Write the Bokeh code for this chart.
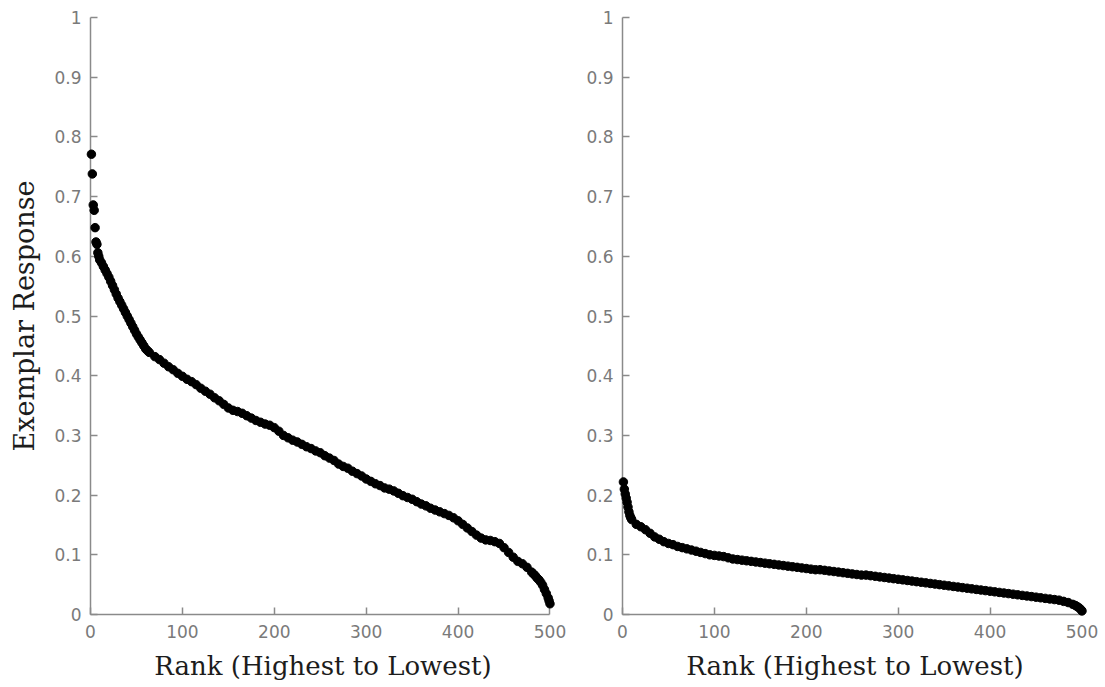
from bokeh.plotting import figure
from bokeh.models import Range1d, FixedTicker
from bokeh.layouts import row
from bokeh.embed import file_html
from bokeh.resources import INLINE

# Ranked exemplar responses (rank 1 = highest), first condition
left_rank = [1, 2, 3, 4, 5, 6, 7, 8, 9, 10,
             12, 14, 16, 18, 20, 22, 24, 26, 28, 30, 32, 34, 36, 38, 40,
             42, 44, 46, 48, 50, 52, 54, 56, 58, 60, 62, 64,
             70, 75, 80, 85, 90, 95, 100, 105, 110, 115, 120, 125, 130, 135,
             140, 145, 150, 155, 160, 165, 170, 175, 180, 185, 190, 195, 200,
             205, 210, 215, 220, 225, 230, 235, 240, 245, 250, 255, 260, 265,
             270, 275, 280, 285, 290, 295, 300, 305, 310, 315, 320, 325, 330,
             335, 340, 345, 350, 355, 360, 365, 370, 375, 380, 385, 390, 395,
             400, 405, 410, 415, 420, 425, 430, 435, 440, 445, 450, 455, 460,
             465, 470, 475, 480, 482, 484, 486, 488, 490, 492, 494, 496, 498,
             499, 500]
left_resp = [0.771, 0.738, 0.686, 0.677, 0.648, 0.624, 0.620, 0.606, 0.600, 0.594,
             0.589, 0.583, 0.577, 0.571, 0.565, 0.558, 0.551, 0.544, 0.537, 0.530,
             0.524, 0.518, 0.512, 0.506, 0.500,
             0.494, 0.488, 0.482, 0.476, 0.470, 0.465, 0.460, 0.455, 0.450, 0.445,
             0.442, 0.439,
             0.432, 0.427, 0.421, 0.415, 0.410, 0.404, 0.399, 0.394, 0.390, 0.385,
             0.379, 0.374, 0.369, 0.363,
             0.358, 0.352, 0.346, 0.342, 0.340, 0.337, 0.333, 0.329, 0.325, 0.322,
             0.319, 0.317, 0.313,
             0.307, 0.300, 0.296, 0.292, 0.289, 0.285, 0.281, 0.278, 0.274, 0.271,
             0.266, 0.262, 0.258,
             0.252, 0.248, 0.245, 0.240, 0.236, 0.232, 0.227, 0.223, 0.219, 0.216,
             0.212, 0.210, 0.207,
             0.203, 0.199, 0.196, 0.193, 0.189, 0.185, 0.182, 0.178, 0.175, 0.172,
             0.169, 0.166, 0.162,
             0.157, 0.151, 0.145, 0.139, 0.133, 0.128, 0.125, 0.124, 0.122, 0.119,
             0.112, 0.104, 0.096,
             0.089, 0.085, 0.079, 0.071, 0.068, 0.065, 0.061, 0.058, 0.054, 0.049,
             0.042, 0.035, 0.028,
             0.023, 0.018]

# Ranked exemplar responses, second condition
right_rank = [1, 2, 3, 4, 5, 6, 7, 8, 9, 10,
              15, 20, 25, 30, 35, 40, 45, 50, 55, 60, 65, 70, 75, 80, 85, 90, 95,
              100, 105, 110, 115, 120, 125, 130, 135, 140, 145, 150, 155, 160, 165,
              170, 175, 180, 185, 190, 195, 200, 205, 210, 215, 220, 225, 230, 235,
              240, 245, 250, 255, 260, 265, 270, 275, 280, 285, 290, 295, 300, 305,
              310, 315, 320, 325, 330, 335, 340, 345, 350, 355, 360, 365, 370, 375,
              380, 385, 390, 395, 400, 405, 410, 415, 420, 425, 430, 435, 440, 445,
              450, 455, 460, 465, 470, 475, 480, 485, 490, 493, 495, 497, 499, 500]
right_resp = [0.222, 0.210, 0.202, 0.195, 0.188, 0.180, 0.172, 0.166, 0.162, 0.159,
              0.151, 0.147, 0.142, 0.136, 0.130, 0.126, 0.122, 0.119, 0.117, 0.114,
              0.112, 0.110, 0.108, 0.106, 0.104, 0.102, 0.100,
              0.099, 0.098, 0.097, 0.095, 0.093, 0.092, 0.091, 0.090, 0.089, 0.088,
              0.087, 0.086, 0.085, 0.084,
              0.083, 0.082, 0.081, 0.080, 0.079, 0.078, 0.077, 0.076, 0.075, 0.075,
              0.074, 0.073, 0.072, 0.071,
              0.070, 0.069, 0.068, 0.067, 0.066, 0.066, 0.065, 0.064, 0.063, 0.062,
              0.061, 0.060, 0.059, 0.058,
              0.057, 0.056, 0.055, 0.054, 0.053, 0.052, 0.051, 0.050, 0.049, 0.048,
              0.047, 0.046, 0.045, 0.044,
              0.043, 0.042, 0.041, 0.040, 0.039, 0.038, 0.037, 0.036, 0.035, 0.034,
              0.033, 0.032, 0.031, 0.030,
              0.029, 0.028, 0.027, 0.026, 0.025, 0.024, 0.022, 0.020, 0.017, 0.015,
              0.013, 0.011, 0.008, 0.006]

x_ticks = [0, 100, 200, 300, 400, 500]
y_ticks = [0, 0.1, 0.2, 0.3, 0.4, 0.5, 0.6, 0.7, 0.8, 0.9, 1]
y_tick_labels = ["0", "0.1", "0.2", "0.3", "0.4", "0.5", "0.6", "0.7", "0.8", "0.9", "1"]

x_title = "Rank (Highest to Lowest)"
y_title = "Exemplar Response"

AXIS_GRAY = "#8a8a8a"
TICK_GRAY = "#7a7a7a"
TITLE_COLOR = "#1c1c1c"


def make_panel(ranks, resp, width, border_left, border_right, ylabel):
    p = figure(width=width, height=687,
               x_range=Range1d(0, 506), y_range=Range1d(0, 1),
               output_backend="svg", toolbar_location=None,
               min_border_left=border_left, min_border_right=border_right,
               min_border_top=17, min_border_bottom=73)
    p.outline_line_color = None
    p.grid.visible = False
    p.background_fill_color = "white"
    p.border_fill_color = "white"

    p.scatter(ranks, resp, size=8.5, color="black", line_color="black",
              level="overlay")

    for ax in (p.xaxis[0], p.yaxis[0]):
        ax.axis_line_color = AXIS_GRAY
        ax.axis_line_width = 1.5
        ax.major_tick_line_color = AXIS_GRAY
        ax.major_tick_line_width = 1.5
        ax.major_tick_in = 7
        ax.major_tick_out = 0
        ax.minor_tick_line_color = None
        ax.major_label_text_font = "DejaVu Sans"
        ax.major_label_text_font_size = "17px"
        ax.major_label_text_color = TICK_GRAY
        ax.axis_label_text_font = "DejaVu Serif"
        ax.axis_label_text_font_size = "26px"
        ax.axis_label_text_font_style = "normal"
        ax.axis_label_text_color = TITLE_COLOR

    xa = p.xaxis[0]
    xa.ticker = FixedTicker(ticks=x_ticks)
    xa.bounds = (0, 500)
    xa.major_label_standoff = 10
    xa.axis_label = x_title
    xa.axis_label_standoff = 10

    ya = p.yaxis[0]
    ya.ticker = FixedTicker(ticks=y_ticks)
    ya.major_label_overrides = dict(zip(y_ticks, y_tick_labels))
    ya.major_label_standoff = 9
    if ylabel:
        ya.axis_label = y_title
        ya.axis_label_text_font_size = "27px"
        ya.axis_label_standoff = 11
    return p


left = make_panel(left_rank, left_resp, 575, 90, 20, True)
right = make_panel(right_rank, right_resp, 530, 47, 18, False)

layout = row(left, right)
open("out.html", "w").write(file_html(layout, INLINE))
